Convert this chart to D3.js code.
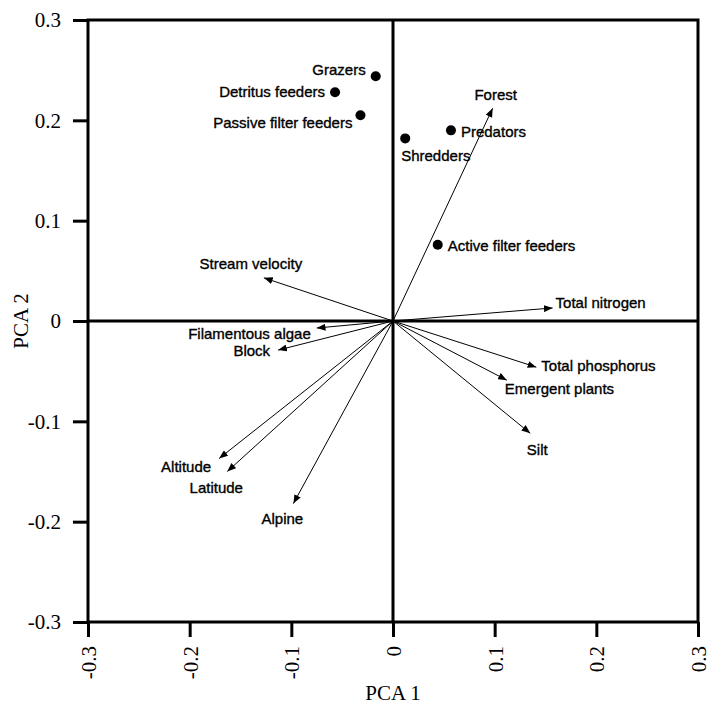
<!DOCTYPE html>
<html>
<head>
<meta charset="utf-8">
<script src="https://cdn.jsdelivr.net/npm/d3@7"></script>
<style>
  html, body { margin: 0; padding: 0; background: #fff; }
  svg { display: block; }
</style>
</head>
<body>
<svg id="chart" width="717" height="711"></svg>
<script>
// Axis ticks (both principal components share the same range)
const xTicks = [-0.3, -0.2, -0.1, 0, 0.1, 0.2, 0.3];
const yTicks = [-0.3, -0.2, -0.1, 0, 0.1, 0.2, 0.3];

// Invertebrate feeding groups (plotted as points)
const groupNames = ["Grazers", "Detritus feeders", "Passive filter feeders", "Shredders", "Predators", "Active filter feeders"];
const groupPCA1 = [-0.017, -0.057, -0.032, 0.012, 0.057, 0.044];
const groupPCA2 = [0.244, 0.228, 0.205, 0.182, 0.190, 0.076];

// Environmental variables (plotted as vectors from the origin)
const varNames = ["Forest", "Stream velocity", "Total nitrogen", "Filamentous algae", "Block", "Total phosphorus", "Emergent plants", "Silt", "Altitude", "Latitude", "Alpine"];
const varPCA1 = [0.098, -0.127, 0.157, -0.075, -0.113, 0.141, 0.112, 0.135, -0.171, -0.163, -0.098];
const varPCA2 = [0.212, 0.043, 0.013, -0.007, -0.029, -0.046, -0.059, -0.112, -0.137, -0.150, -0.182];

// Label placement relative to each mark: [dx, dy, anchor]
const labelPlacement = {
  "Grazers": [-10, -6, "end"],
  "Detritus feeders": [-10, 0, "end"],
  "Passive filter feeders": [-8, 7, "end"],
  "Shredders": [-4, 17, "start"],
  "Predators": [10, 1, "start"],
  "Active filter feeders": [10, 1, "start"],
  "Forest": [3, -14, "middle"],
  "Stream velocity": [-13, -14, "middle"],
  "Total nitrogen": [3, -5, "start"],
  "Filamentous algae": [-6, 6, "end"],
  "Block": [-8, 1, "end"],
  "Total phosphorus": [5, -1, "start"],
  "Emergent plants": [-2, 9, "start"],
  "Silt": [7, 16, "middle"],
  "Altitude": [-8, 8, "end"],
  "Latitude": [-11, 16, "middle"],
  "Alpine": [-11, 15, "middle"]
};

const groups = groupNames.map((n, i) => ({ name: n, x: groupPCA1[i], y: groupPCA2[i] }));
const vars = varNames.map((n, i) => ({ name: n, x: varPCA1[i], y: varPCA2[i] }));

const svg = d3.select("#chart");
const plotLeft = 88, plotRight = 698, plotTop = 20, plotBottom = 622;

const x = d3.scaleLinear().domain([-0.3, 0.3]).range([plotLeft, plotRight]);
const y = d3.scaleLinear().domain([-0.3, 0.3]).range([plotBottom, plotTop]);

const serif = "'Liberation Serif', 'Times New Roman', Times, serif";
const sans = "'Liberation Sans', Arial, Helvetica, sans-serif";
const fmt = d => d === 0 ? "0" : d.toFixed(1);

// Left axis (ticks and labels)
const yAxis = svg.append("g")
  .attr("transform", `translate(${plotLeft},0)`)
  .call(d3.axisLeft(y).tickValues(yTicks).tickSize(15).tickSizeOuter(0).tickPadding(12).tickFormat(fmt));
yAxis.select(".domain").remove();
yAxis.selectAll(".tick line").attr("stroke", "#000").attr("stroke-width", 3);
yAxis.selectAll(".tick text")
  .attr("fill", "#000")
  .style("font-family", serif)
  .style("font-size", "21px");

// Bottom axis with rotated labels
const xAxis = svg.append("g")
  .attr("transform", `translate(0,${plotBottom})`)
  .call(d3.axisBottom(x).tickValues(xTicks).tickSize(15).tickSizeOuter(0).tickFormat(fmt));
xAxis.select(".domain").remove();
xAxis.selectAll(".tick line").attr("stroke", "#000").attr("stroke-width", 3);
xAxis.selectAll(".tick text")
  .attr("fill", "#000")
  .attr("transform", "rotate(-90)")
  .attr("x", -24)
  .attr("y", 0)
  .attr("dy", "0.35em")
  .attr("text-anchor", "end")
  .style("font-family", serif)
  .style("font-size", "21px");

// Plot frame
svg.append("rect")
  .attr("x", plotLeft).attr("y", plotTop)
  .attr("width", plotRight - plotLeft).attr("height", plotBottom - plotTop)
  .attr("fill", "none").attr("stroke", "#000").attr("stroke-width", 3);

// Zero lines
svg.append("line")
  .attr("x1", plotLeft).attr("x2", plotRight)
  .attr("y1", y(0)).attr("y2", y(0))
  .attr("stroke", "#000").attr("stroke-width", 3);
svg.append("line")
  .attr("x1", x(0)).attr("x2", x(0))
  .attr("y1", plotTop).attr("y2", plotBottom)
  .attr("stroke", "#000").attr("stroke-width", 3);

// Arrowhead
svg.append("defs").append("marker")
  .attr("id", "arrow")
  .attr("viewBox", "0 0 10 8")
  .attr("refX", 10).attr("refY", 4)
  .attr("markerWidth", 9).attr("markerHeight", 7)
  .attr("markerUnits", "userSpaceOnUse")
  .attr("orient", "auto")
  .append("path")
  .attr("d", "M0,0 L10,4 L0,8 Z")
  .attr("fill", "#000");

// Environmental vectors
svg.append("g").selectAll("line")
  .data(vars)
  .join("line")
  .attr("x1", x(0)).attr("y1", y(0))
  .attr("x2", d => x(d.x)).attr("y2", d => y(d.y))
  .attr("stroke", "#000").attr("stroke-width", 1)
  .attr("marker-end", "url(#arrow)");

// Feeding-group points
svg.append("g").selectAll("circle")
  .data(groups)
  .join("circle")
  .attr("cx", d => x(d.x)).attr("cy", d => y(d.y))
  .attr("r", 5)
  .attr("fill", "#000");

// Labels
svg.append("g").selectAll("text")
  .data(groups.concat(vars))
  .join("text")
  .attr("x", d => x(d.x) + labelPlacement[d.name][0])
  .attr("y", d => y(d.y) + labelPlacement[d.name][1])
  .attr("dy", "0.35em")
  .attr("text-anchor", d => labelPlacement[d.name][2])
  .style("font-family", sans)
  .style("font-size", "15px")
  .attr("fill", "#000")
  .attr("stroke", "#000")
  .attr("stroke-width", 0.35)
  .text(d => d.name);

// Axis titles
svg.append("text")
  .attr("x", (plotLeft + plotRight) / 2).attr("y", 700)
  .attr("text-anchor", "middle")
  .style("font-family", serif).style("font-size", "21px")
  .attr("fill", "#000")
  .text("PCA 1");
svg.append("text")
  .attr("transform", `translate(28,${y(0)}) rotate(-90)`)
  .attr("text-anchor", "middle")
  .style("font-family", serif).style("font-size", "21px")
  .attr("fill", "#000")
  .text("PCA 2");
</script>
</body>
</html>
